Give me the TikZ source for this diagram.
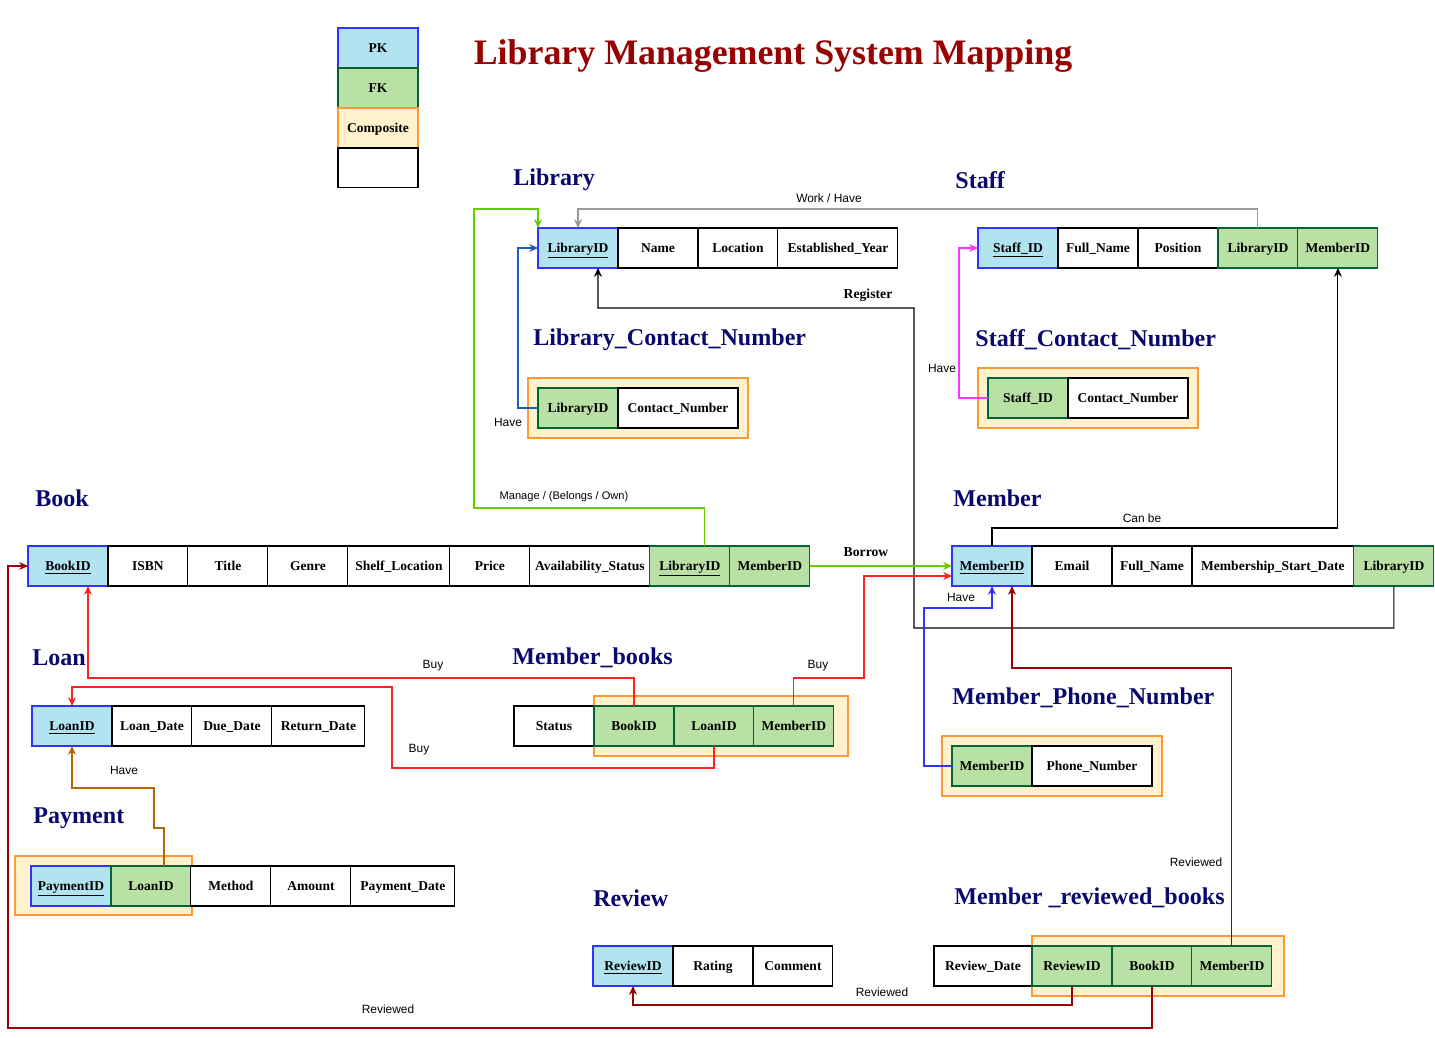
\documentclass[tikz,border=0pt]{standalone}
\usepackage{fontspec}
\setmainfont{Liberation Serif}
\newfontfamily\labelfont{Liberation Sans}
\usetikzlibrary{positioning,arrows.meta}
\definecolor{pkfill}{HTML}{B1E4F0}
\definecolor{pkline}{HTML}{3333FF}
\definecolor{fkfill}{HTML}{B9E0A5}
\definecolor{fkline}{HTML}{006633}
\definecolor{compfill}{HTML}{FFF2CC}
\definecolor{compline}{HTML}{FF9933}
\definecolor{headblue}{HTML}{0A0A6E}
\definecolor{titlered}{HTML}{990000}
\definecolor{linkgreen}{HTML}{66CC00}
\definecolor{linkred}{HTML}{FF2222}
\definecolor{linkdarkred}{HTML}{990000}
\definecolor{linkbrown}{HTML}{B46504}
\definecolor{linkblue}{HTML}{1B5FB4}
\definecolor{linkviolet}{HTML}{3333FF}
\definecolor{linkpink}{HTML}{FF33FF}
\definecolor{linkgray}{HTML}{9A9A9A}
\tikzset{
  cell/.style={draw, outer sep=0pt, inner sep=1pt, line width=0.6pt,
    minimum height=0.8cm, minimum width=1.6cm,
    text height=1.6ex, text depth=0.5ex,
    font=\fontsize{7.7}{9}\selectfont\bfseries},
  pk/.style={cell, fill=pkfill, draw=pkline},
  fk/.style={cell, fill=fkfill, draw=fkline},
  composite/.style={draw=compline, fill=compfill, line width=0.6pt},
  head/.style={anchor=west, inner sep=0pt, text=headblue,
    font=\fontsize{13.7}{16}\selectfont\bfseries},
  lbl/.style={inner sep=1pt, font=\labelfont\fontsize{6.8}{8}\selectfont},
  slbl/.style={inner sep=1pt, font=\fontsize{7.8}{9}\selectfont\bfseries},
  link/.style={line width=0.6pt, -{Stealth[length=5pt,width=4.5pt]}}
}
\begin{document}
\begin{tikzpicture}[x=0.02cm, y=-0.02cm]
  \useasboundingbox (0,0) rectangle (1435,1037);

  % legend and title
  \node[pk, anchor=north west] (lgPK) at (338,28) {PK};
  \node[fk, below=0pt of lgPK] (lgFK) {FK};
  \node[cell, fill=compfill, draw=compline, below=0pt of lgFK] (lgComp) {Composite};
  \node[cell, below=0pt of lgComp] (lgBlank) {};
  \node[text=titlered, font=\fontsize{20.4}{24}\selectfont\bfseries] (title) at (773,56)
    {Library Management System Mapping};

  % composite frames
  \draw[composite] (528,378) rectangle (748,438);
  \draw[composite] (978,368) rectangle (1198,428);
  \draw[composite] (594,696) rectangle (848,756);
  \draw[composite] (942,736) rectangle (1162,796);
  \draw[composite] (15,856) rectangle (192,915);
  \draw[composite] (1032,936) rectangle (1284,996);

  % Library
  \node[head] (hLib) at (513,180) {Library};
  \node[pk, anchor=west] (libID) at (538,248) {\underline{LibraryID}};
  \node[cell, right=0pt of libID] (libName) {Name};
  \node[cell, right=0pt of libName] (libLoc) {Location};
  \node[cell, minimum width=2.4cm, right=0pt of libLoc] (libYear) {Established\_Year};

  % Staff
  \node[head] (hSt) at (955,180) {Staff};
  \node[pk, anchor=west] (stID) at (978,248) {\underline{Staff\_ID}};
  \node[cell, right=0pt of stID] (stName) {Full\_Name};
  \node[cell, right=0pt of stName] (stPos) {Position};
  \node[fk, right=0pt of stPos] (stLib) {LibraryID};
  \node[fk, right=0pt of stLib] (stMem) {MemberID};

  % Library_Contact_Number
  \node[head] (hLc) at (533,340) {Library\_Contact\_Number};
  \node[fk, anchor=west] (lcLib) at (538,408) {LibraryID};
  \node[cell, minimum width=2.4cm, fill=white, right=0pt of lcLib] (lcNum) {Contact\_Number};

  % Staff_Contact_Number
  \node[head] (hSc) at (975,340) {Staff\_Contact\_Number};
  \node[fk, anchor=west] (scSt) at (988,398) {Staff\_ID};
  \node[cell, minimum width=2.4cm, fill=white, right=0pt of scSt] (scNum) {Contact\_Number};

  % Book
  \node[head] (hBk) at (35,498) {Book};
  \node[pk, anchor=west] (bkID) at (28,566) {\underline{BookID}};
  \node[cell, right=0pt of bkID] (bkISBN) {ISBN};
  \node[cell, right=0pt of bkISBN] (bkTitle) {Title};
  \node[cell, right=0pt of bkTitle] (bkGenre) {Genre};
  \node[cell, minimum width=2.04cm, right=0pt of bkGenre] (bkShelf) {Shelf\_Location};
  \node[cell, right=0pt of bkShelf] (bkPrice) {Price};
  \node[cell, minimum width=2.4cm, right=0pt of bkPrice] (bkAvail) {Availability\_Status};
  \node[fk, right=0pt of bkAvail] (bkLib) {\underline{LibraryID}};
  \node[fk, right=0pt of bkLib] (bkMem) {MemberID};

  % Member
  \node[head] (hMb) at (953,498) {Member};
  \node[pk, anchor=west] (mbID) at (952,566) {\underline{MemberID}};
  \node[cell, right=0pt of mbID] (mbMail) {Email};
  \node[cell, right=0pt of mbMail] (mbName) {Full\_Name};
  \node[cell, minimum width=3.24cm, right=0pt of mbName] (mbStart) {Membership\_Start\_Date};
  \node[fk, right=0pt of mbStart] (mbLib) {LibraryID};

  % Loan
  \node[head] (hLn) at (32,658) {Loan};
  \node[pk, anchor=west] (lnID) at (32,726) {\underline{LoanID}};
  \node[cell, right=0pt of lnID] (lnDate) {Loan\_Date};
  \node[cell, right=0pt of lnDate] (lnDue) {Due\_Date};
  \node[cell, minimum width=1.86cm, right=0pt of lnDue] (lnRet) {Return\_Date};

  % Member_books
  \node[head] (hMk) at (512,658) {Member\_books};
  \node[cell, anchor=west] (mkStat) at (514,726) {Status};
  \node[fk, right=0pt of mkStat] (mkBook) {BookID};
  \node[fk, right=0pt of mkBook] (mkLoan) {LoanID};
  \node[fk, right=0pt of mkLoan] (mkMem) {MemberID};

  % Member_Phone_Number
  \node[head] (hMp) at (952,698) {Member\_Phone\_Number};
  \node[fk, anchor=west] (mpID) at (952,766) {MemberID};
  \node[cell, minimum width=2.4cm, fill=white, right=0pt of mpID] (mpNum) {Phone\_Number};

  % Payment
  \node[head] (hPy) at (33,818) {Payment};
  \node[pk, anchor=west] (pyID) at (31,886) {\underline{PaymentID}};
  \node[fk, right=0pt of pyID] (pyLoan) {LoanID};
  \node[cell, fill=white, right=0pt of pyLoan] (pyMeth) {Method};
  \node[cell, right=0pt of pyMeth] (pyAmt) {Amount};
  \node[cell, minimum width=2.08cm, right=0pt of pyAmt] (pyDate) {Payment\_Date};

  % Review
  \node[head] (hRv) at (593,898) {Review};
  \node[pk, anchor=west] (rvID) at (593,966) {\underline{ReviewID}};
  \node[cell, right=0pt of rvID] (rvRate) {Rating};
  \node[cell, right=0pt of rvRate] (rvCom) {Comment};

  % Member_reviewed_books
  \node[head] (hMr) at (954,898) {Member \_reviewed\_books};
  \node[cell, minimum width=1.96cm, anchor=west] (mrDate) at (934,966) {Review\_Date};
  \node[fk, right=0pt of mrDate] (mrRev) {ReviewID};
  \node[fk, right=0pt of mrRev] (mrBook) {BookID};
  \node[fk, right=0pt of mrBook] (mrMem) {MemberID};

  % connectors
  \draw[link, draw=linkgray, -{Stealth[length=5pt,width=4.5pt,fill=linkgray]}]
    (stLib.north) -- ++(0,-19) -| (libID.north);
  \node[lbl] (tWork) at (829,198) {Work / Have};

  \draw[link, draw=linkgreen] ([xshift=0.3cm]bkLib.north) |- (474,508)
    -- (474,209) -| (libID.north west);
  \node[lbl, font=\labelfont\fontsize{6.3}{8}\selectfont] (tManage) at (564,497)
    {Manage / (Belongs / Own)};

  \draw[link, draw=linkblue] (lcLib.west) -- ++(-20,0) |- (libID.west);
  \node[lbl] (tHaveLc) at (508,422) {Have};

  \draw[link] (mbLib.south) |- (914,628) |- (598,308) -- ([xshift=0.4cm]libID.south);
  \node[slbl] (tReg) at (868,295) {Register};

  \draw[link, draw=linkpink] (scSt.west) -- ++(-29,0) |- (stID.west);
  \node[lbl] (tHaveSc) at (942,368) {Have};

  \draw[link] (mbID.north) -- ++(0,-18) -| (stMem.south);
  \node[lbl] (tCan) at (1142,518) {Can be};

  \draw[link, draw=linkgreen] (bkMem.east) -- (mbID.west);
  \node[slbl] (tBorrow) at (866,552) {Borrow};

  \draw[link, draw=linkred] (mkMem.north) |- (864,678) |- ([yshift=-0.2cm]mbID.west);
  \node[lbl] (tBuy1) at (818,666) {Buy};

  \draw[link, draw=linkred] (mkBook.north) -- ++(0,-28) -| ([xshift=0.4cm]bkID.south);
  \node[lbl] (tBuy2) at (433,666) {Buy};

  \draw[link, draw=linkred] (mkLoan.south) -- ++(0,22) -| (392,687) -| (lnID.north);
  \node[lbl] (tBuy3) at (419,750) {Buy};

  \draw[link, draw=linkviolet] (mpID.west) -- ++(-28,0) -- ++(0,-158) -| (mbID.south);
  \node[lbl] (tHaveMp) at (961,597) {Have};

  \draw[link, draw=linkdarkred] (mrMem.north) -- ++(0,-278) -| ([xshift=0.4cm]mbID.south);
  \node[lbl] (tRev1) at (1196,862) {Reviewed};

  \draw[link, draw=linkbrown] ([xshift=0.26cm]pyLoan.north) -- ++(0,-38) -- ++(-10,0)
    -- ++(0,-40) -| (lnID.south);
  \node[lbl] (tHavePy) at (124,770) {Have};

  \draw[link, draw=linkdarkred] (mrRev.south) -- ++(0,19) -| (rvID.south);
  \node[lbl] (tRev2) at (882,992) {Reviewed};

  \draw[link, draw=linkdarkred] (mrBook.south) -- ++(0,42) -| (8,566) -- (bkID.west);
  \node[lbl] (tRev3) at (388,1009) {Reviewed};
\end{tikzpicture}
\end{document}
